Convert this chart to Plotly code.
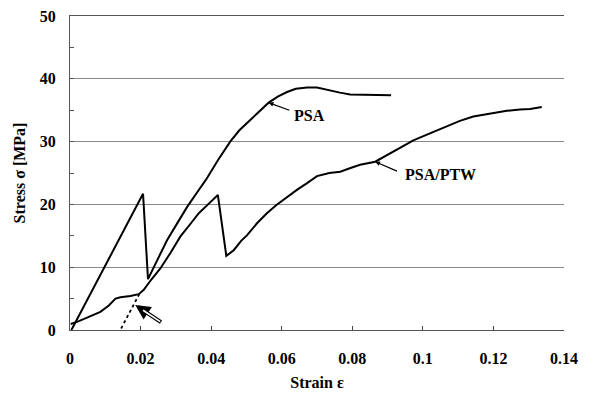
import plotly.graph_objects as go

# PSA curve
psa_strain = [0.0004, 0.0207, 0.0221, 0.0250, 0.0275, 0.0305, 0.0332, 0.0360, 0.0385, 0.0420,
              0.0454, 0.0480, 0.0511, 0.0537, 0.0563, 0.0590, 0.0615, 0.0640, 0.0672,
              0.0700, 0.0737, 0.0765, 0.0794, 0.0850, 0.0910]
psa_stress = [0.0, 21.7, 8.1, 11.4, 14.3, 17.1, 19.6, 21.9, 23.9, 27.1,
              30.0, 31.8, 33.4, 34.9, 36.2, 37.2, 37.9, 38.4, 38.6,
              38.6, 38.1, 37.8, 37.5, 37.4, 37.4]

# PSA/PTW curve
ptw_strain = [0.0002, 0.0020, 0.0050, 0.0086, 0.0110, 0.0129, 0.0143, 0.0171, 0.0195, 0.0209,
              0.0230, 0.0256, 0.0285, 0.0313, 0.0340, 0.0365, 0.0395, 0.0419, 0.0443,
              0.0464, 0.0485, 0.0502, 0.0530, 0.0558, 0.0585, 0.0615, 0.0645, 0.0672,
              0.0700, 0.0735, 0.0766, 0.0795, 0.0822, 0.0865, 0.0920, 0.0973, 0.1020,
              0.1068, 0.1105, 0.1143, 0.1190, 0.1238, 0.1275, 0.1304, 0.1337]
ptw_stress = [0.96, 1.3, 2.0, 2.9, 3.9, 5.0, 5.2, 5.4, 5.7, 6.4,
              8.0, 9.8, 12.3, 14.9, 16.8, 18.6, 20.2, 21.5, 11.8,
              12.7, 14.2, 15.1, 17.0, 18.6, 19.9, 21.2, 22.4, 23.4,
              24.5, 25.0, 25.2, 25.8, 26.3, 26.8, 28.5, 30.2, 31.3,
              32.4, 33.3, 34.0, 34.5, 34.9, 35.1, 35.2, 35.5]

# Dotted tangent line
tangent_strain = [0.0137, 0.0200]
tangent_stress = [-0.6, 6.1]

x_tickvals = [0, 0.02, 0.04, 0.06, 0.08, 0.10, 0.12, 0.14]
x_ticktext = ["0", "0.02", "0.04", "0.06", "0.08", "0.1", "0.12", "0.14"]
y_tickvals = [0, 10, 20, 30, 40, 50]

FONT = "Liberation Serif, Times New Roman, serif"

fig = go.Figure()
fig.add_trace(go.Scatter(x=psa_strain, y=psa_stress, mode="lines",
                         line=dict(color="black", width=2), showlegend=False))
fig.add_trace(go.Scatter(x=ptw_strain, y=ptw_stress, mode="lines",
                         line=dict(color="black", width=2), showlegend=False))
fig.add_trace(go.Scatter(x=tangent_strain, y=tangent_stress, mode="lines",
                         line=dict(color="black", width=1.8, dash="dot"),
                         cliponaxis=False, showlegend=False))

# pointer lines for labels
fig.add_annotation(x=0.0563, y=36.2, ax=0.0626, ay=34.9, axref="x", ayref="y",
                   text="", showarrow=True, arrowhead=2, arrowsize=0.8, arrowwidth=1.2,
                   arrowcolor="black")
fig.add_annotation(x=0.0865, y=26.8, ax=0.0931, ay=25.2, axref="x", ayref="y",
                   text="", showarrow=True, arrowhead=2, arrowsize=0.8, arrowwidth=1.2,
                   arrowcolor="black")
fig.add_annotation(x=0.0678, y=34.1, text="<b>PSA</b>", showarrow=False,
                   font=dict(family=FONT, size=16, color="black"))
fig.add_annotation(x=0.1049, y=24.7, text="<b>PSA/PTW</b>", showarrow=False,
                   font=dict(family=FONT, size=16, color="black"))

# hollow double-line arrow
fig.add_annotation(x=0.0185, y=4.0, ax=0.0262, ay=1.1, axref="x", ayref="y",
                   text="", showarrow=True, arrowhead=2, arrowsize=0.75, arrowwidth=4,
                   arrowcolor="black")
fig.add_annotation(x=0.0207, y=3.15, ax=0.0260, ay=1.17, axref="x", ayref="y",
                   text="", showarrow=True, arrowhead=0, arrowwidth=1.6,
                   arrowcolor="white")

# page body has an 8px default margin, so the figure is shrunk by that amount
fig.update_layout(
    width=587, height=390,
    margin=dict(l=62, r=31, t=8, b=68),
    plot_bgcolor="white", paper_bgcolor="white",
    font=dict(family=FONT, size=16, color="black"),
)
fig.update_xaxes(
    range=[0, 0.14], tickvals=x_tickvals, ticktext=x_ticktext,
    ticks="inside", ticklen=4, tickcolor="#444", showgrid=False,
    showline=True, linecolor="#555", linewidth=1.2, zeroline=False, mirror=True,
    tickfont=dict(family=FONT, size=16, weight="bold"),
    ticklabelstandoff=14, automargin=False, ticklabeloverflow="allow",
    title=dict(text="<b>Strain ε</b>", font=dict(family=FONT, size=16), standoff=10),
)
fig.update_yaxes(
    range=[0, 50], tickvals=y_tickvals,
    ticks="inside", ticklen=4, tickcolor="#555",
    showgrid=True, gridcolor="#8a8a8a", gridwidth=1,
    showline=True, linecolor="#555", linewidth=1, zeroline=False,
    minor=dict(dtick=5, ticks="inside", ticklen=4, tickcolor="#555", showgrid=False),
    tickfont=dict(family=FONT, size=16, weight="bold"),
    ticklabelstandoff=10, automargin=False, ticklabeloverflow="allow",
    title=dict(text="<b>Stress σ [MPa]</b>", font=dict(family=FONT, size=16), standoff=10),
)

fig.write_html("out.html")
